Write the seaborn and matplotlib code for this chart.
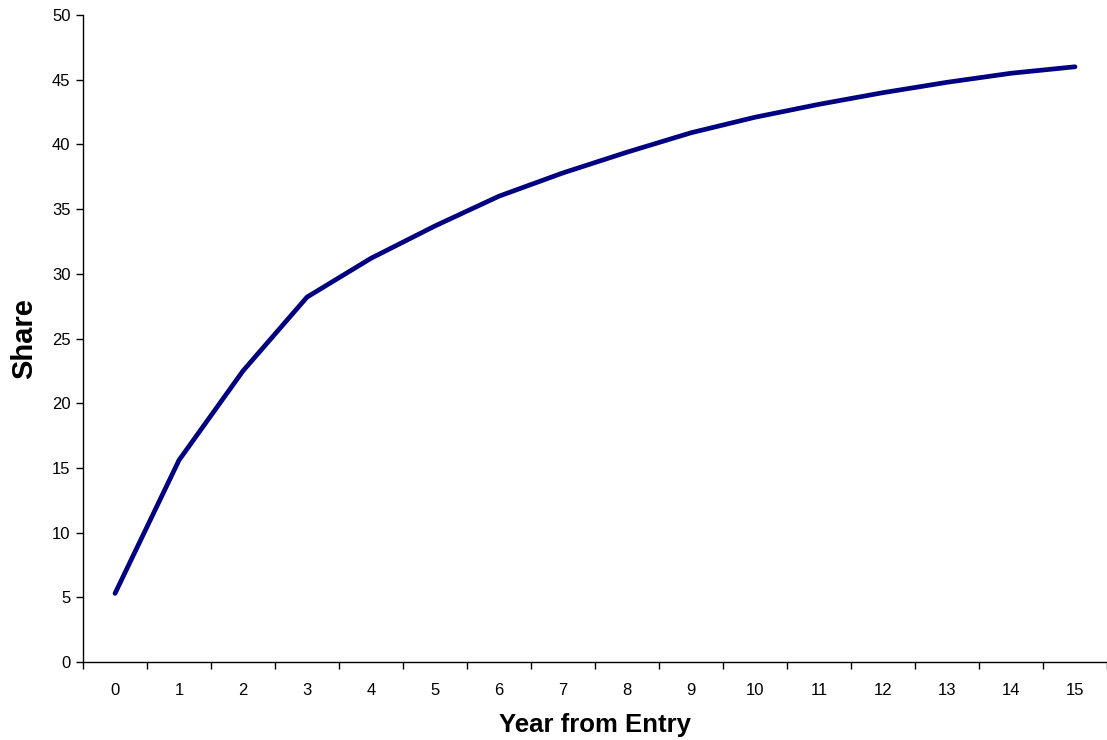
import matplotlib
matplotlib.use("Agg")
import matplotlib.pyplot as plt
import seaborn as sns
import pandas as pd
import numpy as np
from matplotlib.ticker import FixedLocator

years = list(range(16))
share = [5.3, 15.6, 22.5, 28.2, 31.2, 33.7, 36.0, 37.8, 39.4, 40.9, 42.1, 43.1, 44.0, 44.8, 45.5, 46.0]
y_ticks = [0, 5, 10, 15, 20, 25, 30, 35, 40, 45, 50]

sns.set_theme(style="white")
plt.rcParams['font.family'] = ['Liberation Sans', 'DejaVu Sans']
plt.rcParams['text.color'] = 'black'
plt.rcParams['axes.labelcolor'] = 'black'
plt.rcParams['xtick.color'] = 'black'
plt.rcParams['ytick.color'] = 'black'

df = pd.DataFrame({"Year": years, "Share": share})

fig = plt.figure(figsize=(11.07, 7.40), dpi=100)
ax = fig.add_axes([0.075, 0.1054, 0.925, 0.8743])
sns.lineplot(data=df, x="Year", y="Share", ax=ax, color="#000080", linewidth=3.4,
             solid_capstyle="round", solid_joinstyle="round")

ax.set_xlim(-0.5, 15.5)
ax.set_ylim(0, 50)
ax.set_yticks(y_ticks)
ax.set_yticklabels([str(v) for v in y_ticks], fontsize=12)
ax.set_xticks(years)
ax.set_xticklabels([str(v) for v in years], fontsize=12)
ax.xaxis.set_minor_locator(FixedLocator(np.arange(-0.5, 16, 1)))
ax.tick_params(axis='x', which='major', length=0, pad=15)
ax.tick_params(axis='x', which='minor', length=5, width=1, color='black', direction='out', bottom=True)
ax.tick_params(axis='y', which='major', length=5, width=1, color='black', direction='out', left=True, pad=4)

for s in ['top', 'right']:
    ax.spines[s].set_visible(False)
for s in ['left', 'bottom']:
    ax.spines[s].set_color('black')
    ax.spines[s].set_linewidth(1)

ax.set_xlabel("Year from Entry", fontsize=18.5, fontweight='bold', labelpad=11)
ax.set_ylabel("Share", fontsize=21, fontweight='bold', labelpad=10)
ax.grid(False)

fig.savefig("out.png", dpi=100)
